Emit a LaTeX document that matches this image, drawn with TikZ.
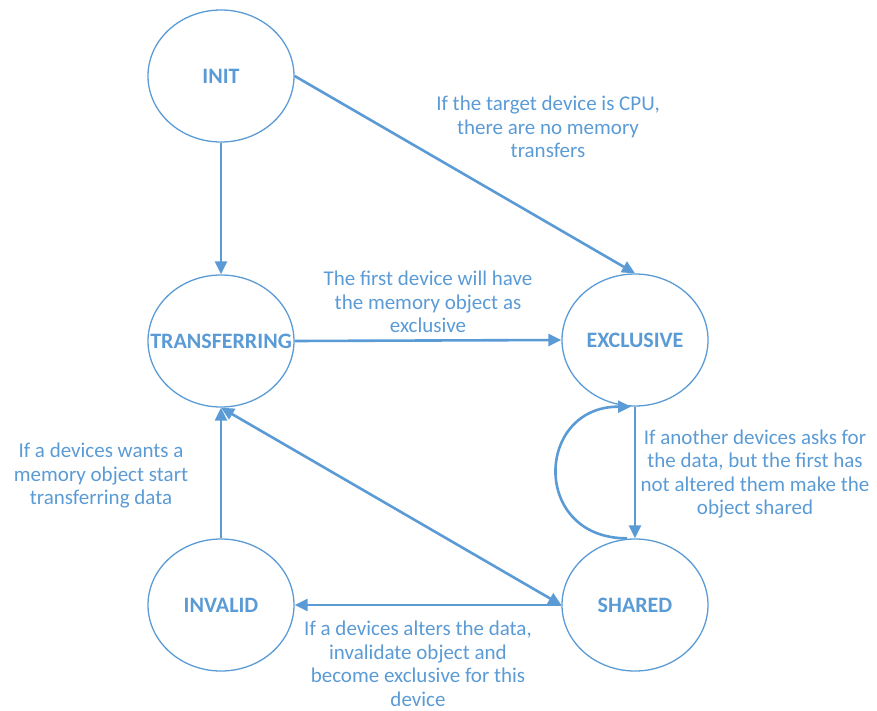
\documentclass[tikz,border=0pt]{standalone}
\usepackage{fontspec}
\setmainfont{Carlito}
\usetikzlibrary{arrows.meta,shapes.geometric}
\definecolor{stateblue}{HTML}{5B9BD5}
% state names are centred without widening the ellipse
\newcommand{\statename}[1]{\makebox[0pt][c]{#1}}
\tikzset{
  state/.style={ellipse, draw=stateblue, line width=1.3pt, minimum width=146pt,
    minimum height=132pt, inner sep=0pt, text=stateblue, font=\fontsize{22}{24}\selectfont\bfseries},
  tip/.tip={Triangle[length=13pt,width=12pt]},
  trans/.style={draw=stateblue, line width=2.6pt, -tip},
  note/.style={text=stateblue, align=center, inner sep=0pt, font=\fontsize{21}{23.5}\selectfont}
}
\begin{document}
\begin{tikzpicture}[x=1pt,y=-1pt]
\useasboundingbox (0,0) rectangle (877,711);
% states
\node[state] (init) at (221,76) {\statename{INIT}};
\node[state] (trans) at (221,341) {\statename{TRANSFERRING}};
\node[state] (excl) at (635,340) {\statename{EXCLUSIVE}};
\node[state] (inval) at (221,605) {\statename{INVALID}};
\node[state] (shared) at (635,605) {\statename{SHARED}};
% transitions
\draw[trans] (init.south) -- (trans.north);
\draw[trans] (init.east) -- (excl.north);
\draw[trans] (trans.east) -- (excl.west);
\draw[trans,tip-tip] (trans.south) -- (shared.west);
\draw[trans] (inval.north) -- (trans.south);
\draw[trans] (shared.west) -- (inval.east);
\draw[trans] (excl.south) -- (shared.north);
\draw[trans] ([xshift=-8pt]shared.north) .. controls +(-96,0) and +(-96,0) .. ([xshift=-4pt]excl.south);
% annotations
\node[note] (n1) at (548,127) {If the target device is CPU,\\there are no memory\\transfers};
\node[note] (n2) at (428,302) {The first device will have\\the memory object as\\exclusive};
\node[note] (n3) at (755,474) {If another devices asks for\\the data, but the first has\\not altered them make the\\object shared};
\node[note] (n4) at (101,476) {If a devices wants a\\memory object start\\transferring data};
\node[note] (n5) at (418,664) {If a devices alters the data,\\invalidate object and\\become exclusive for this\\device};
\end{tikzpicture}
\end{document}
